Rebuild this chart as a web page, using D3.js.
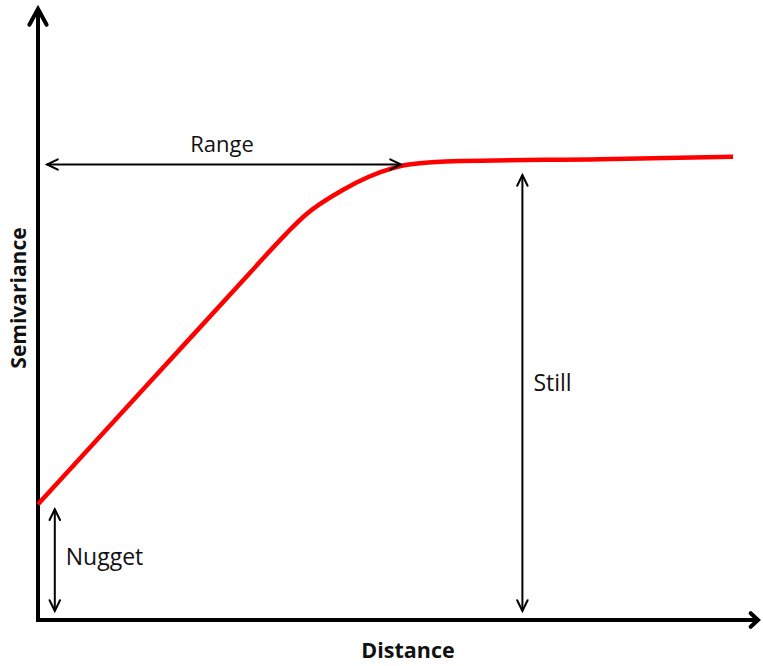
<!DOCTYPE html>
<html>
<head>
<meta charset="utf-8">
<script src="https://cdn.jsdelivr.net/npm/d3@7"></script>
<style>
  html, body { margin: 0; padding: 0; background: #fff; }
  svg { display: block; }
  text { font-family: "Open Sans", Lato, sans-serif; fill: #111; }
</style>
</head>
<body>
<svg id="chart" width="763" height="666"></svg>
<script>
// Idealised semivariogram: distance vs semivariance
const distance     = [0, 1.5, 3.0, 3.53, 3.8, 4.36, 5.07, 5.3, 6.03, 8.03, 9.93];
const semivariance = [1.93, 3.84, 5.75, 6.42, 6.73, 7.17, 7.53, 7.59, 7.65, 7.68, 7.72];

// Key variogram parameters
const nugget = 1.93;
const sill = 7.6;
const range = 5.2;

const axisTitles = { x: "Distance", y: "Semivariance" };
const annotationLabels = { range: "Range", sill: "Still", nugget: "Nugget" };

const svg = d3.select("#chart");

const x = d3.scaleLinear().domain([0, 10]).range([38, 738]);
const y = d3.scaleLinear().domain([0, 10]).range([620, 20]);

// Open chevron arrowhead at (tx, ty) pointing in direction angle (radians)
function chevron(g, tx, ty, angle, len, spread, width) {
  const a1 = angle + Math.PI - spread, a2 = angle + Math.PI + spread;
  const p = d3.path();
  p.moveTo(tx + len * Math.cos(a1), ty + len * Math.sin(a1));
  p.lineTo(tx, ty);
  p.lineTo(tx + len * Math.cos(a2), ty + len * Math.sin(a2));
  g.append("path").attr("d", p.toString())
    .attr("fill", "none").attr("stroke", "#000")
    .attr("stroke-width", width)
    .attr("stroke-linecap", "round").attr("stroke-linejoin", "miter");
}

function arrowLine(g, x1, y1, x2, y2, width, len, spread, both) {
  g.append("line")
    .attr("x1", x1).attr("y1", y1).attr("x2", x2).attr("y2", y2)
    .attr("stroke", "#000").attr("stroke-width", width);
  const ang = Math.atan2(y2 - y1, x2 - x1);
  chevron(g, x2, y2, ang, len, spread, width);
  if (both) chevron(g, x1, y1, ang + Math.PI, len, spread, width);
}

// Axes
const axes = svg.append("g");
axes.append("line")
  .attr("x1", x(0)).attr("y1", y(0) + 2).attr("x2", x(0)).attr("y2", 9)
  .attr("stroke", "#000").attr("stroke-width", 4);
chevron(axes, x(0), 9, -Math.PI / 2, 18, 0.5, 4);
axes.append("line")
  .attr("x1", x(0) - 2).attr("y1", y(0)).attr("x2", 758).attr("y2", y(0))
  .attr("stroke", "#000").attr("stroke-width", 4);
chevron(axes, 758, y(0), 0, 10, 0.75, 4);

// Semivariance curve
const line = d3.line()
  .x((d, i) => x(distance[i]))
  .y(d => y(d))
  .curve(d3.curveMonotoneX);

svg.append("path")
  .datum(semivariance)
  .attr("d", line)
  .attr("fill", "none")
  .attr("stroke", "#ff0000")
  .attr("stroke-width", 4.5)
  .attr("stroke-linecap", "butt");

// Annotations
const ann = svg.append("g");

// Range
const rangeY = y(sill) + 0.5;
arrowLine(ann, x(0) + 9, rangeY, x(range) - 1, rangeY, 2, 12, 0.45, true);
ann.append("text")
  .attr("x", (x(0) + x(range)) / 2 + 2).attr("y", rangeY - 13)
  .attr("text-anchor", "middle").attr("font-size", 22)
  .text(annotationLabels.range);

// Sill
const sillX = x(6.92);
arrowLine(ann, sillX, y(0) - 9, sillX, y(sill) + 11, 2, 12, 0.45, true);
ann.append("text")
  .attr("x", sillX + 11).attr("y", 391)
  .attr("font-size", 23)
  .text(annotationLabels.sill);

// Nugget
const nugX = x(0.24);
arrowLine(ann, nugX, y(0) - 9, nugX, y(nugget) + 5, 2, 12, 0.45, true);
ann.append("text")
  .attr("x", nugX + 11).attr("y", 565)
  .attr("font-size", 23)
  .text(annotationLabels.nugget);

// Axis titles
svg.append("text")
  .attr("x", 408).attr("y", 658)
  .attr("text-anchor", "middle")
  .attr("font-size", 21.5).attr("font-weight", "bold")
  .text(axisTitles.x);

svg.append("text")
  .attr("transform", "translate(26,298) rotate(-90)")
  .attr("text-anchor", "middle")
  .attr("font-size", 21).attr("font-weight", "bold")
  .text(axisTitles.y);
</script>
</body>
</html>
